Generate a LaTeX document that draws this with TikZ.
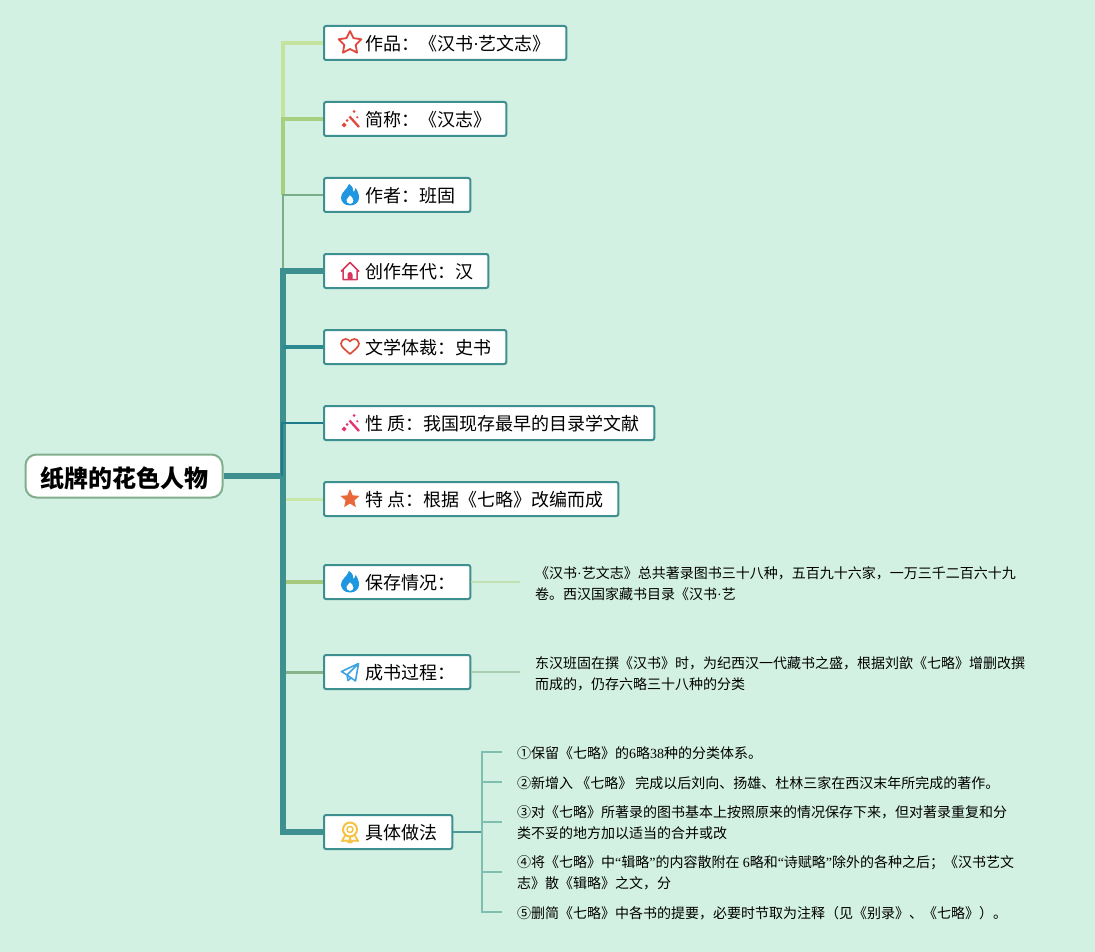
\documentclass[tikz,border=0pt]{standalone}
\usepackage{fontspec}
\setmainfont{Noto Sans CJK SC}
\newfontfamily\numfont{Liberation Serif}
\usetikzlibrary{positioning}
\definecolor{pagebg}{HTML}{D3F1E2}
\definecolor{boxline}{HTML}{3E8F8F}
\definecolor{rootline}{HTML}{82AE8E}
\definecolor{iconred}{HTML}{E0483E}
\definecolor{iconpink}{HTML}{E8306A}
\definecolor{iconblue}{HTML}{1E96E0}
\definecolor{iconrose}{HTML}{D9365E}
\definecolor{iconheart}{HTML}{D9503C}
\definecolor{iconorange}{HTML}{E8683A}
\definecolor{iconsky}{HTML}{3BA3E0}
\definecolor{icongold}{HTML}{F5C242}
\definecolor{topa}{RGB}{197,227,156}
\definecolor{topb}{RGB}{168,207,127}
\definecolor{topc}{RGB}{122,174,136}
\definecolor{lowa}{RGB}{200,230,168}
\definecolor{lowb}{RGB}{166,201,126}
\definecolor{lowc}{RGB}{136,179,138}
\definecolor{midb}{RGB}{42,138,144}
\definecolor{midc}{RGB}{31,122,140}
\definecolor{texta}{RGB}{192,224,176}
\definecolor{textb}{RGB}{168,208,176}
\definecolor{hubin}{RGB}{75,154,150}
\definecolor{hubout}{RGB}{127,191,176}
\tikzset{
	branch/.style= {
		rectangle,
		draw=boxline,
		fill=white,
		line width=2pt,
		rounded corners=2pt,
		anchor=west,
		minimum height=34pt,
		inner xsep=15.25pt,
		inner ysep=0pt,
		text height=19pt,
		text depth=3.4pt,
		font={\fontsize{18}{22}\selectfont}
	},
	root/.style= {
		rectangle,
		draw=rootline,
		fill=white,
		line width=2pt,
		rounded corners=11pt,
		minimum width=197pt,
		minimum height=43pt,
		inner sep=0pt,
		text height=25pt,
		text depth=3pt,
		font={\fontsize{24}{28}\selectfont\bfseries}
	},
	detail/.style= {
		anchor=west,
		align=left,
		inner xsep=15pt,
		inner ysep=0pt,
		font={\fontsize{14}{21}\selectfont}
	},
	link/.style={line width=#1, line cap=butt},
	icon/.style={x=1pt,y=1pt},
	starline/.pic={
		\draw[line width=1.8pt, line join=round] (90:12pt) -- (126:6pt) -- (162:12pt) -- (198:6pt) -- (234:12pt) -- (270:6pt) -- (306:12pt) -- (342:6pt) -- (18:12pt) -- (54:6pt) -- cycle;
	},
	starfull/.pic={
		\fill[line join=round] (90:10pt) -- (126:4.6pt) -- (162:10pt) -- (198:4.6pt) -- (234:10pt) -- (270:4.6pt) -- (306:10pt) -- (342:4.6pt) -- (18:10pt) -- (54:4.6pt) -- cycle;
	},
	wand/.pic={
		\draw[line width=2.3pt] (-0.5,2.5) -- (9,-8);
		\fill (-8.5,-6) -- (-6,-3.5) -- (-3.5,-6) -- (-6,-8.5) -- cycle;
		\fill (-4.5,-1.5) -- (-3,0) -- (-1.5,-1.5) -- (-3,-3) -- cycle;
		\fill (2.5,7.5) -- (4,9) -- (5.5,7.5) -- (4,6) -- cycle;
		\fill (7.3,1.7) circle (1.2pt);
	},
	flame/.pic={
		\fill[even odd rule] (0,-10.5) .. controls (-6,-10.5) and (-9,-6.5) .. (-9,-2.5) .. controls (-9,3) and (-3,5) .. (-1,11) .. controls (2.5,9) and (3.5,6) .. (3.5,3) .. controls (4.5,4) and (5.5,5.5) .. (5.5,7) .. controls (8,4) and (9,0) .. (9,-2.5) .. controls (9,-7) and (5.5,-10.5) .. (0,-10.5)
			(0,-9) .. controls (-3,-9) and (-4,-6.5) .. (-3.5,-4.5) .. controls (-3,-3) and (-1,-2) .. (0,0) .. controls (1.5,-1.5) and (3.5,-3.5) .. (3.5,-5.5) .. controls (3.5,-7.5) and (2,-9) .. (0,-9);
	},
	house/.pic={
		\draw[line width=1.5pt, line join=round] (-9,-0.5) -- (0,8.5) -- (9,-0.5) (-7,1) -- (-7,-8.5) -- (7,-8.5) -- (7,1);
		\fill (-2.5,-8.5) -- (-2.5,-3.5) arc (180:0:2.5pt) -- (2.5,-8.5) -- cycle;
	},
	heart/.pic={
		\draw[line width=1.7pt, line join=round] (0,-7) .. controls (-5,-2.5) and (-9,0) .. (-9,3.5) .. controls (-9,6.5) and (-6.5,8) .. (-4.5,8) .. controls (-2.5,8) and (-1,7) .. (0,5.5) .. controls (1,7) and (2.5,8) .. (4.5,8) .. controls (6.5,8) and (9,6.5) .. (9,3.5) .. controls (9,0) and (5,-2.5) .. (0,-7) -- cycle;
	},
	plane/.pic={
		\draw[line width=1.6pt, line join=round] (8.5,8.5) -- (-8.5,0.5) -- (-3,-3) -- (8.5,8.5) -- (5.5,-9) -- (-3,-3) -- (-2,-8.5) -- (1,-6);
	},
	medal/.pic={
		\draw[line width=2pt] (0,2.5) circle (7pt);
		\draw[line width=1.5pt] (0,2.5) circle (3pt);
		\draw[line width=1.8pt, line join=round] (-5,-3.5) -- (-8,-9) -- (-3.5,-8.5) -- (-1,-10.5) -- (0,-5) -- (1,-10.5) -- (3.5,-8.5) -- (8,-9) -- (5,-3.5);
	},
}
\newcommand{\boxtext}[1]{\hspace*{25.75pt}#1}
\begin{document}
\begin{tikzpicture}[x=1pt,y=-1pt]
		\path[use as bounding box, fill=pagebg] (0,0) rectangle (1095,952);

		\node (paper) [root] at (124,476) {纸牌的花色人物};

		\node (zuopin) [branch] at (323,43) {\boxtext{作品：《汉书{\numfont ·}艺文志》}};
		\node (jiancheng) [branch] at (323,119) {\boxtext{简称：《汉志》}};
		\node (zuozhe) [branch] at (323,195) {\boxtext{作者：班固}};
		\node (niandai) [branch] at (323,271) {\boxtext{创作年代：汉}};
		\node (ticai) [branch] at (323,347) {\boxtext{文学体裁：史书}};
		\node (xingzhi) [branch] at (323,423) {\boxtext{性 质：我国现存最早的目录学文献}};
		\node (tedian) [branch] at (323,499) {\boxtext{特 点：根据《七略》改编而成}};
		\node (baocun) [branch] at (323,582) {\boxtext{保存情况：}};
		\node (chengshu) [branch] at (323,672) {\boxtext{成书过程：}};
		\node (zuofa) [branch] at (323,832) {\boxtext{具体做法}};

		\node (baocuntext) [detail] at (520,584) {《汉书{\numfont ·}艺文志》总共著录图书三十八种，五百九十六家，一万三千二百六十九\\卷。西汉国家藏书目录《汉书{\numfont ·}艺};
		\node (chengshutext) [detail] at (520,674) {东汉班固在撰《汉书》时，为纪西汉一代藏书之盛，根据刘歆《七略》增删改撰\\而成的，仍存六略三十八种的分类};

		\node (leafa) [detail] at (502,753) {①保留《七略》的{\numfont 6}略{\numfont 38}种的分类体系。};
		\node (leafb) [detail] at (502,783) {②新增入 《七略》 完成以后刘向、扬雄、杜林三家在西汉末年所完成的著作。};
		\node (leafc) [detail] at (502,823) {③对《七略》所著录的图书基本上按照原来的情况保存下来，但对著录重复和分\\类不妥的地方加以适当的合并或改};
		\node (leafd) [detail] at (502,873) {④将《七略》中{\numfont “}辑略{\numfont ”}的内容散附在 {\numfont 6}略和{\numfont “}诗赋略{\numfont ”}除外的各种之后；《汉书艺文\\志》散《辑略》之文，分};
		\node (leafe) [detail] at (502,913) {⑤删简《七略》中各书的提要，必要时节取为注释（见《别录》、《七略》）。};

		\coordinate (trunk) at (283,476);
		\coordinate (hub) at (482,832);

		\draw[link=4pt, topa] (zuopin.west) -| (trunk |- jiancheng.west);
		\draw[link=3.5pt, topb] (jiancheng.west) -| (trunk |- zuozhe.west);
		\draw[link=2.5pt, topc] (zuozhe.west) -| (trunk |- niandai.west);
		\draw[link=3pt, lowa] (tedian.west) to (trunk |- tedian.west);
		\draw[link=4pt, lowb] (baocun.west) to (trunk |- baocun.west);
		\draw[link=3pt, lowc] (chengshu.west) to (trunk |- chengshu.west);

		\draw[link=6pt, boxline] (paper) to (trunk);
		\draw[link=6pt, boxline] (niandai.west) -| (trunk);
		\draw[link=6pt, boxline] (zuofa.west) -| (trunk);
		\draw[link=4pt, midb] (ticai.west) to (trunk |- ticai.west);
		\draw[link=2pt, midc] (xingzhi.west) -| ([xshift=-1pt]trunk);

		\draw[link=1.5pt, texta] (baocun.east) to (baocun.east -| baocuntext.west);
		\draw[link=1.5pt, textb] (chengshu.east) to (chengshu.east -| chengshutext.west);

		\draw[link=2pt, hubin] (zuofa.east) to (hub);
		\draw[link=1.5pt, hubout] (hub) |- ([yshift=1pt]leafa.west);
		\draw[link=1.5pt, hubout] (hub) |- ([yshift=1pt]leafb.west);
		\draw[link=1.5pt, hubout] (hub) |- ([yshift=1pt]leafc.west);
		\draw[link=1.5pt, hubout] (hub) |- ([yshift=1pt]leafd.west);
		\draw[link=1.5pt, hubout] (hub) |- ([yshift=1pt]leafe.west);

		\pic[icon, color=iconred] at ([xshift=27pt]zuopin.west) {starline};
		\pic[icon, color=iconred] at ([xshift=27pt]jiancheng.west) {wand};
		\pic[icon, color=iconblue] at ([xshift=27pt]zuozhe.west) {flame};
		\pic[icon, color=iconrose] at ([xshift=27pt]niandai.west) {house};
		\pic[icon, color=iconheart] at ([xshift=27pt]ticai.west) {heart};
		\pic[icon, color=iconpink] at ([xshift=27pt]xingzhi.west) {wand};
		\pic[icon, color=iconorange] at ([xshift=27pt]tedian.west) {starfull};
		\pic[icon, color=iconblue] at ([xshift=27pt]baocun.west) {flame};
		\pic[icon, color=iconsky] at ([xshift=27pt]chengshu.west) {plane};
		\pic[icon, color=icongold] at ([xshift=27pt]zuofa.west) {medal};
	\end{tikzpicture}
\end{document}
